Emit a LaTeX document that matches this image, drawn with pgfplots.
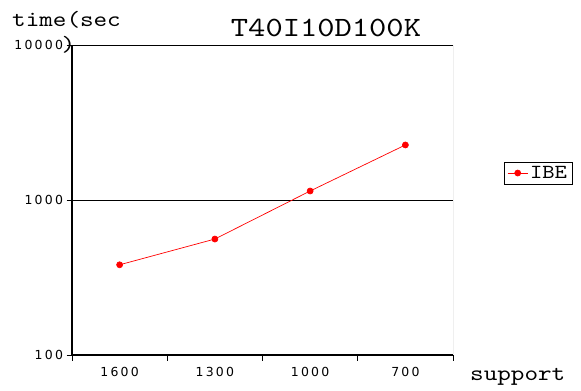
\documentclass[border=0pt]{standalone}
\usepackage{fontspec}
\usepackage{pgfplots}
\pgfplotsset{compat=1.18}
\newfontfamily\cour{lmmono10-regular.otf}[FakeStretch=1.18]
\newfontfamily\tickf{DejaVu Sans}[LetterSpace=18]
\begin{document}
\begin{tikzpicture}[x=1bp,y=1bp]
\useasboundingbox (0,0) rectangle (581,390);
\begin{axis}[
  at={(72bp,35bp)}, anchor=south west,
  scale only axis, width=381bp, height=310bp,
  xmin=-0.5, xmax=3.5,
  ymode=log, ymin=100, ymax=10000,
  axis x line*=bottom, axis y line*=left,
  axis line style={-, line width=1.2bp, black},
  xtick={-0.5,0.5,1.5,2.5,3.5}, xticklabels={{},{},{},{},{}},
  extra x ticks={0,1,2,3}, extra x tick labels={1600,1300,1000,700},
  extra x tick style={major tick length=0pt, grid=none,
     xticklabel style={anchor=north, yshift=-9bp}},
  ytick={100,1000,10000}, yticklabels={100,1000,10000},
  yminorticks=false,
  ymajorgrids, grid style={black, line width=0.6bp},
  tick align=outside, major tick length=5.5bp,
  tick style={black, line width=0.6bp},
  /pgf/number format/assume math mode=true,
  ticklabel style={font=\tickf\fontsize{12.5}{13}\selectfont},
  legend style={at={(1.134,0.587)}, anchor=west, draw=black, line width=0.6bp,
     font=\cour\fontsize{20}{20}\selectfont, inner xsep=3bp, inner ysep=2bp},
  legend image code/.code={\draw[mark repeat=2,mark phase=2,#1] plot coordinates {(0bp,0bp) (10bp,0bp) (20bp,0bp)};},
]
\addplot[red, mark=*, mark size=3bp, line width=0.7bp, mark options={solid}] coordinates {(0,382) (1,560) (2,1143) (3,2265)};
\addlegendentry{IBE}
\draw[black, line width=0.6bp] (rel axis cs:0,1) -- (rel axis cs:1,1);
\draw[gray, line width=0.8bp] (rel axis cs:1,1) -- (rel axis cs:1,0);
\end{axis}
\node[anchor=base west, inner sep=0pt, font=\cour\fontsize{22}{22}\selectfont] at (12,364) {time(sec};
\node[anchor=center, inner sep=0pt, font=\cour\fontsize{22}{22}\selectfont] at (68.5,345) {)};
\node[anchor=base, inner sep=0pt, font=\cour\fontsize{28}{28}\selectfont] at (326,354) {T40I10D100K};
\node[anchor=base west, inner sep=0pt, font=\cour\fontsize{22}{22}\selectfont] at (470,10) {support};
\end{tikzpicture}
\end{document}
